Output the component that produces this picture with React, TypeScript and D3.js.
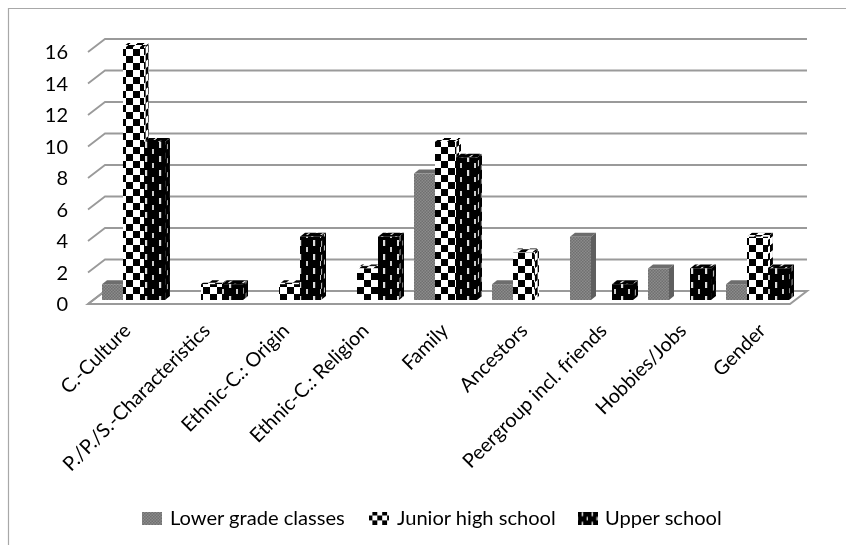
import React from "react";
import * as d3 from "d3";

const width = 846;
const height = 545;

const categories = [
  "C.-Culture",
  "P./P./S.-Characteristics",
  "Ethnic-C.: Origin",
  "Ethnic-C.: Religion",
  "Family",
  "Ancestors",
  "Peergroup incl. friends",
  "Hobbies/Jobs",
  "Gender",
];
const seriesNames = ["Lower grade classes", "Junior high school", "Upper school"];
const lowerGrade = [1, 0, 0, 0, 8, 1, 4, 2, 1];
const juniorHigh = [16, 1, 1, 2, 10, 3, 0, 0, 4];
const upperSchool = [10, 1, 4, 4, 9, 0, 1, 2, 2];
const ticks = [0, 2, 4, 6, 8, 10, 12, 14, 16];

const allSeries = [lowerGrade, juniorHigh, upperSchool];
const frontFill = ["url(#pLower)", "url(#pJunior)", "url(#pUpper)"];
const sideFill = ["#5f5f5f", "url(#pJuniorSide)", "url(#pUpperSide)"];
const topFill = ["#6d6d6d", "url(#pJuniorTop)", "url(#pUpperTop)"];
const legendFill = ["url(#pLower)", "url(#pJuniorSmall)", "url(#pUpperSmall)"];

const font = "Lato, 'Noto Sans', sans-serif";

// wall + floor depth of the fake 3d
const depthX = 17;
const depthY = -13;
const barDx = 5;
const barDy = -4;

const x = d3.scaleBand<string>().domain(categories).range([88, 790]);
const y = d3.scaleLinear().domain([0, 16]).range([304, 52]);
const barY = d3.scaleLinear().domain([0, 16]).range([300, 47]);
const labelX = d3.scalePoint<string>().domain(categories).range([127, 762]);

const App: React.FC = () => {
  const barW = 21;
  return (
    <svg
      width={width}
      height={height}
      style={{ position: "absolute", left: 0, top: 0, background: "#fff" }}
    >
      <defs>
        <pattern id="pLower" width="3" height="3" patternUnits="userSpaceOnUse">
          <rect width="3" height="3" fill="#8c8c8c" />
          <rect width="1.5" height="1.5" fill="#6f6f6f" />
          <rect x="1.5" y="1.5" width="1.5" height="1.5" fill="#6f6f6f" />
        </pattern>
        <pattern id="pJunior" width="14" height="14" patternUnits="userSpaceOnUse">
          <rect width="14" height="14" fill="#fff" />
          <rect width="7" height="7" fill="#000" />
          <rect x="7" y="7" width="7" height="7" fill="#000" />
        </pattern>
        <pattern id="pUpper" width="14" height="14" patternUnits="userSpaceOnUse">
          <rect width="14" height="14" fill="#000" />
          <rect x="5" y="2" width="2.2" height="6" fill="#ddd" />
          <rect x="12" y="9" width="2" height="5" fill="#ccc" />
        </pattern>
        <pattern id="pJuniorSide" href="#pJunior" patternTransform="skewY(-38) scale(0.4,1)" />
        <pattern id="pUpperSide" href="#pUpper" patternTransform="skewY(-38) scale(0.4,1)" />
        <pattern id="pJuniorTop" href="#pJunior" patternTransform="skewX(-50) scale(1,0.4)" />
        <pattern id="pUpperTop" href="#pUpper" patternTransform="skewX(-50) scale(1,0.4)" />
        <pattern id="pJuniorSmall" href="#pJunior" patternTransform="translate(0,1) scale(0.7)" />
        <pattern id="pUpperSmall" href="#pUpper" patternTransform="translate(0,1) scale(0.7)" />
        <filter id="soft">
          <feGaussianBlur stdDeviation="0.45" />
        </filter>
        <filter id="softText">
          <feGaussianBlur stdDeviation="0.25" />
        </filter>
      </defs>

      <path d="M846,8.5 H8.5 V545" fill="none" stroke="#a8a8a8" strokeWidth={1.2} />

      <g filter="url(#soft)">
        {/* floor */}
        <path
          d={`M${x.range()[0]},${y(0)} L${x.range()[0] + depthX},${y(0) + depthY} H${x.range()[1] + depthX} L${x.range()[1]},${y(0)} Z`}
          fill="#fff"
          stroke="#9a9a9a"
          strokeWidth={2}
        />
        {ticks.map((t) => (
          <path
            key={t}
            d={`M${x.range()[0]},${y(t)} L${x.range()[0] + depthX},${y(t) + depthY} H${x.range()[1] + depthX}`}
            fill="none"
            stroke="#9a9a9a"
            strokeWidth={1.8}
          />
        ))}

        {categories.map((c, i) => {
          const left = (x(c) as number) + 14;
          return (
            <g key={c}>
              {allSeries.map((vals, s) => {
                const v = vals[i];
                if (!v) return null;
                const bx = left + s * barW;
                const top = barY(v);
                const base = barY(0);
                return (
                  <g key={s}>
                    <path
                      d={`M${bx},${top} l${barDx},${barDy} h${barW} l${-barDx},${-barDy} Z`}
                      fill={topFill[s]}
                    />
                    <path
                      d={`M${bx + barW},${top} l${barDx},${barDy} V${base + barDy} l${-barDx},${-barDy} Z`}
                      fill={sideFill[s]}
                    />
                    <rect x={bx} y={top} width={barW} height={base - top} fill={frontFill[s]} />
                  </g>
                );
              })}
            </g>
          );
        })}
      </g>

      <g filter="url(#softText)" fontFamily={font} fill="#000">
        {ticks.map((t) => (
          <text key={t} x={68} y={y(t)} dy="0.35em" textAnchor="end" fontSize={20}>
            {t}
          </text>
        ))}

        {categories.map((c) => (
          <text
            key={c}
            transform={`translate(${labelX(c)},327) rotate(-45)`}
            textAnchor="end"
            dy="0.35em"
            fontSize={19.8}
          >
            {c}
          </text>
        ))}

        {seriesNames.map((n, i) => (
          <text key={n} x={[170, 397, 605][i]} y={518} dy="0.35em" fontSize={20.1}>
            {n}
          </text>
        ))}
      </g>

      <g filter="url(#soft)">
        {seriesNames.map((n, i) => (
          <rect key={n} x={[142, 369, 578][i]} y={512} width={20} height={13} fill={legendFill[i]} />
        ))}
      </g>
    </svg>
  );
};

export default App;
